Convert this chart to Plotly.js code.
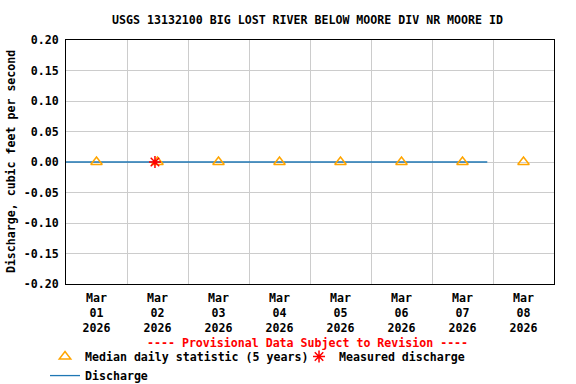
<!DOCTYPE html>
<html><head><meta charset="utf-8">
<script src="https://cdn.plot.ly/plotly-3.0.1.min.js"></script>
<style>body{margin:0;background:#fff}#c{width:576px;height:384px}</style>
</head><body><div id="c"></div>
<script>
const dischargeTimes = ['2026-03-01 00:00','2026-03-02 00:00','2026-03-03 00:00','2026-03-04 00:00','2026-03-05 00:00','2026-03-06 00:00','2026-03-07 00:00','2026-03-07 21:45'];
const dischargeValues = [0,0,0,0,0,0,0,0];
const medianDates = ['2026-03-01 12:00','2026-03-02 12:00','2026-03-03 12:00','2026-03-04 12:00','2026-03-05 12:00','2026-03-06 12:00','2026-03-07 12:00','2026-03-08 12:00'];
const medianValues = [0,0,0,0,0,0,0,0];
const measuredDates = ['2026-03-02 11:00'];
const measuredValues = [0];
const tickLabels = ['Mar<br>01<br>2026','Mar<br>02<br>2026','Mar<br>03<br>2026','Mar<br>04<br>2026','Mar<br>05<br>2026','Mar<br>06<br>2026','Mar<br>07<br>2026','Mar<br>08<br>2026'];
const yTicks = [-0.20,-0.15,-0.10,-0.05,0,0.05,0.10,0.15,0.20];
const yTickLabels = ['-0.20','-0.15','-0.10','-0.05','0.00','0.05','0.10','0.15','0.20'];

const F = 'DejaVu Sans Mono, monospace';
const FS = 11.6;
const traces = [
  {x: dischargeTimes, y: dischargeValues, type:'scatter', mode:'lines', name:'Discharge',
   line:{color:'#1f77b4', width:1.3}, legendrank:3},
  {x: medianDates, y: medianValues, type:'scatter', mode:'markers', name:'Median daily statistic (5 years)',
   marker:{symbol:'triangle-up-open', color:'#FFA500', size:10, line:{width:1.5}}, legendrank:1},
  {x: measuredDates, y: measuredValues, type:'scatter', mode:'markers', name:'Measured discharge',
   marker:{symbol:'asterisk-open', color:'#FF0000', size:10, line:{width:1.5, color:'#FF0000'}}, legendrank:2}
];
const layout = {
  width:576, height:384,
  margin:{l:66, r:22, t:40, b:100, autoexpand:false},
  paper_bgcolor:'#fff', plot_bgcolor:'#fff',
  font:{family:F, size:FS, color:'#000', weight:'bold'},
  title:{text:'<b>USGS 13132100 BIG LOST RIVER BELOW MOORE DIV NR MOORE ID</b>', xref:'paper', x:0.4949, xanchor:'center', yref:'container', y:0.948, yanchor:'middle', font:{family:F, size:FS}},
  xaxis:{type:'date', range:['2026-03-01 00:00','2026-03-09 00:00'], tickvals:medianDates, ticktext:tickLabels,
    showgrid:false, ticks:'', showline:true, linecolor:'#000', linewidth:1, mirror:true, zeroline:false, automargin:false,
    ticklabelstandoff:3, tickfont:{family:F, size:FS, weight:'bold'},
    minor:{tick0:'2026-03-01', dtick:86400000, showgrid:true, gridcolor:'#cccccc', gridwidth:1, ticks:''}},
  yaxis:{range:[-0.2,0.2], tickvals:yTicks, ticktext:yTickLabels, showgrid:true, gridcolor:'#cccccc', gridwidth:1,
    zeroline:false, showline:true, linecolor:'#000', linewidth:1, mirror:true, ticks:'', automargin:false,
    ticklabelstandoff:4, tickfont:{family:F, size:FS, weight:'bold'}},
  showlegend:true,
  legend:{orientation:'h', x:-0.043, xanchor:'left', y:-0.238, yanchor:'top', traceorder:'normal',
    entrywidth:209, entrywidthmode:'pixels',
    font:{family:F, size:FS, weight:'bold'}, itemwidth:30, bgcolor:'rgba(0,0,0,0)'},
  annotations:[
    {text:'<b>---- Provisional Data Subject to Revision ----</b>', xref:'paper', yref:'paper', x:0.4949, y:-0.242, xanchor:'center', yanchor:'middle', showarrow:false, font:{family:F, size:FS, color:'#FF0000'}},
    {text:'<b>Discharge, cubic feet per second</b>', xref:'paper', yref:'paper', x:-0.1125, y:0.5, xanchor:'center', yanchor:'middle', textangle:-90, showarrow:false, font:{family:F, size:FS, color:'#000'}}
  ]
};
Plotly.newPlot('c', traces, layout, {displayModeBar:false, staticPlot:true});
</script></body></html>
